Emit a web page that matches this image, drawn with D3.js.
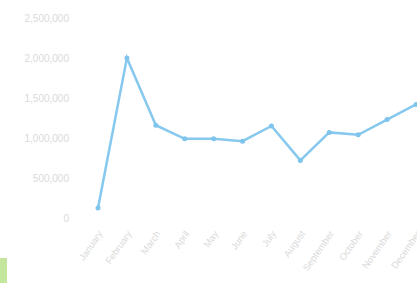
<!DOCTYPE html>
<html lang="en">
<head>
    <meta charset="UTF-8">
    <title>Monthly line chart</title>
    <style>
        body {
            margin: 0;
            padding: 0;
            background: #fff;
            font-family: "Liberation Sans", Arial, sans-serif;
        }
    </style>
</head>
<body>
    <svg id="chart"></svg>
    <script src="https://d3js.org/d3.v7.min.js"></script>
    <script>
        const months = ["January", "February", "March", "April", "May", "June",
            "July", "August", "September", "October", "November", "December"];
        const values = [125000, 2000000, 1160000, 990000, 990000, 960000,
            1150000, 720000, 1070000, 1040000, 1230000, 1420000];
        const yTicks = [0, 500000, 1000000, 1500000, 2000000, 2500000];

        const width = 417;
        const height = 283;

        const svg = d3.select("#chart")
            .attr("width", width)
            .attr("height", height);

        const x = d3.scalePoint()
            .domain(months)
            .range([98, 416]);

        const y = d3.scaleLinear()
            .domain([0, 2500000])
            .range([218, 18]);

        // y axis labels, no lines
        svg.append("g")
            .attr("transform", "translate(72,0)")
            .call(d3.axisLeft(y).tickValues(yTicks).tickSize(0).tickFormat(d3.format(",")))
            .call(g => g.select(".domain").remove())
            .selectAll("text")
            .attr("fill", "#dadada")
            .style("font-size", "10px");

        // x axis labels rotated
        svg.append("g")
            .attr("transform", "translate(0,228)")
            .call(d3.axisBottom(x).tickSize(0))
            .call(g => g.select(".domain").remove())
            .selectAll("text")
            .attr("fill", "#dadada")
            .style("font-size", "9.5px")
            .attr("text-anchor", "end")
            .attr("dx", "-2")
            .attr("dy", "4")
            .attr("transform", "rotate(-55)");

        const line = d3.line()
            .x((d, i) => x(months[i]))
            .y(d => y(d));

        svg.append("path")
            .datum(values)
            .attr("fill", "none")
            .attr("stroke", "#86c8ee")
            .attr("stroke-width", 2.5)
            .attr("d", line);

        svg.selectAll("circle")
            .data(values)
            .enter().append("circle")
            .attr("cx", (d, i) => x(months[i]))
            .attr("cy", d => y(d))
            .attr("r", 2.5)
            .attr("fill", "#7fc4ec");

        // legend swatch peeking in at the bottom left
        svg.append("rect")
            .attr("x", 0)
            .attr("y", 258)
            .attr("width", 7)
            .attr("height", 25)
            .attr("fill", "#c4e59c");
    </script>
</body>
</html>
